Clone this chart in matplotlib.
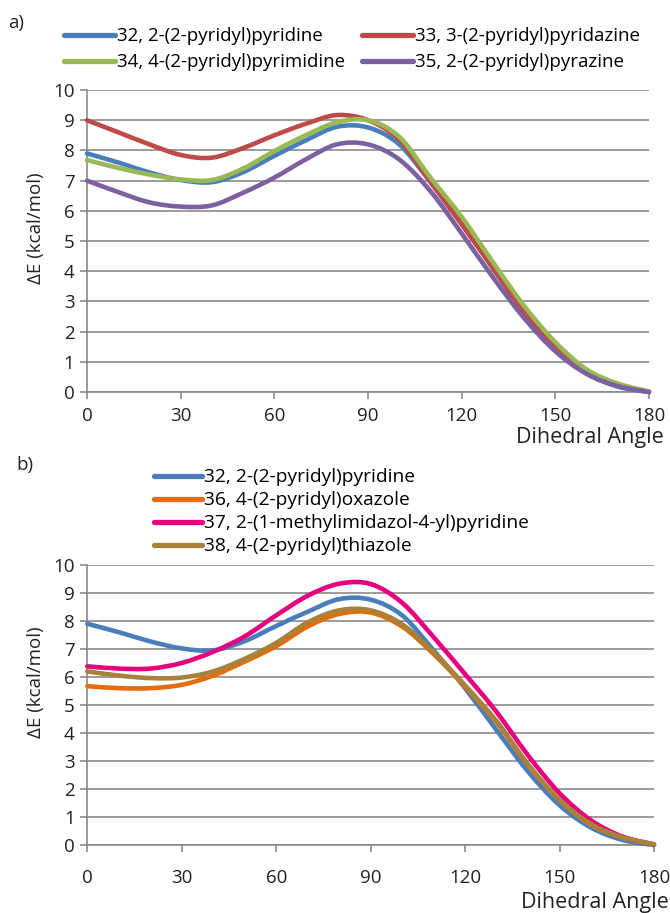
import matplotlib
matplotlib.use("Agg")
import matplotlib.pyplot as plt
import numpy as np
from matplotlib.path import Path
from matplotlib.patches import PathPatch
from matplotlib.lines import Line2D

plt.rcParams["font.family"] = ["Open Sans", "DejaVu Sans"]

# dihedral angles (deg) and relative energies (kcal/mol)
angles = [0, 10, 20, 30, 40, 50, 60, 70, 80, 90, 100, 110, 120, 130, 140, 150, 160, 170, 180]

e32 = [7.90, 7.60, 7.27, 7.02, 6.95, 7.28, 7.82, 8.33, 8.78, 8.76, 8.20, 6.95, 5.60, 4.10, 2.62, 1.42, 0.62, 0.18, 0.0]
e33 = [9.00, 8.60, 8.20, 7.85, 7.76, 8.08, 8.50, 8.88, 9.17, 9.00, 8.35, 6.95, 5.55, 4.10, 2.65, 1.50, 0.68, 0.24, 0.0]
e34 = [7.68, 7.42, 7.20, 7.04, 7.02, 7.40, 7.98, 8.50, 8.93, 9.00, 8.45, 7.10, 5.80, 4.30, 2.85, 1.65, 0.75, 0.28, 0.02]
e35 = [7.00, 6.62, 6.28, 6.14, 6.18, 6.60, 7.10, 7.70, 8.20, 8.20, 7.70, 6.65, 5.25, 3.80, 2.45, 1.35, 0.60, 0.20, 0.0]

e36 = [5.67, 5.60, 5.60, 5.72, 6.05, 6.55, 7.10, 7.80, 8.25, 8.30, 7.80, 6.82, 5.65, 4.38, 2.85, 1.60, 0.72, 0.27, 0.02]
e37 = [6.38, 6.30, 6.30, 6.50, 6.90, 7.45, 8.20, 8.90, 9.33, 9.32, 8.65, 7.42, 6.10, 4.75, 3.20, 1.85, 0.88, 0.30, 0.02]
e38 = [6.20, 6.05, 5.96, 5.98, 6.20, 6.65, 7.22, 7.95, 8.38, 8.38, 7.88, 6.88, 5.70, 4.42, 2.88, 1.62, 0.75, 0.28, 0.02]

labels_a = ["32, 2-(2-pyridyl)pyridine", "33, 3-(2-pyridyl)pyridazine",
            "34, 4-(2-pyridyl)pyrimidine", "35, 2-(2-pyridyl)pyrazine"]
labels_b = ["32, 2-(2-pyridyl)pyridine", "36, 4-(2-pyridyl)oxazole",
            "37, 2-(1-methylimidazol-4-yl)pyridine", "38, 4-(2-pyridyl)thiazole"]

colors_a = ["#4a7ebb", "#be4b48", "#98b954", "#7d60a0"]
colors_b = ["#4a7ebb", "#e46c0a", "#e6007e", "#a8823a"]

GRID = "#8a8a8a"
LW = 3.3


def smooth_line(ax, x, y, color):
    # Excel-like smoothed line: Catmull-Rom segments drawn as cubic Beziers
    p = np.column_stack([x, y]).astype(float)
    pts = np.vstack([p[0], p, p[-1]])
    verts = [p[0]]
    codes = [Path.MOVETO]
    for i in range(1, len(pts) - 2):
        p0, p1, p2, p3 = pts[i - 1], pts[i], pts[i + 1], pts[i + 2]
        verts += [p1 + (p2 - p0) / 6, p2 - (p3 - p1) / 6, p2]
        codes += [Path.CURVE4] * 3
    patch = PathPatch(Path(verts, codes), facecolor="none", edgecolor=color,
                      lw=LW, capstyle="round", joinstyle="round", clip_on=False,
                      zorder=3)
    ax.add_patch(patch)


def style_axes(ax):
    ax.set_xlim(0, 180)
    ax.set_ylim(0, 10)
    ax.set_xticks(np.arange(0, 181, 30))
    ax.set_yticks(np.arange(0, 11, 1))
    ax.yaxis.grid(True, color=GRID, lw=1.2)
    ax.set_axisbelow(True)
    for s in ["top", "right"]:
        ax.spines[s].set_visible(False)
    for s in ["left", "bottom"]:
        ax.spines[s].set_color(GRID)
        ax.spines[s].set_linewidth(1.2)
    ax.tick_params(axis="both", direction="out", length=5, width=1.2,
                   color=GRID, labelsize=13.5, labelcolor="#222222", pad=4)


fig = plt.figure(figsize=(6.7, 9.13), dpi=100)

# panel a
ax1 = fig.add_axes([0.1299, 0.5706, 0.8388, 0.3308])
for y, c in zip([e32, e33, e34, e35], colors_a):
    smooth_line(ax1, angles, y, c)
style_axes(ax1)
ax1.tick_params(axis="x", pad=6)
handles_a = [Line2D([], [], color=c, lw=LW + 0.5, solid_capstyle="round") for c in colors_a]
# legend fills column by column, so order the entries to read row by row
order = [0, 2, 1, 3]
fig.legend([handles_a[i] for i in order], [labels_a[i] for i in order],
           loc="upper left", bbox_to_anchor=(0.096, 0.970),
           ncol=2, frameon=False, fontsize=13.5, handlelength=2.7,
           handletextpad=0.12, columnspacing=0.9, labelspacing=0.42,
           borderpad=0, borderaxespad=0)

# panel b
ax2 = fig.add_axes([0.1303, 0.0745, 0.8458, 0.3067])
for y, c in zip([e32, e36, e37, e38], colors_b):
    smooth_line(ax2, angles, y, c)
style_axes(ax2)
ax2.tick_params(axis="x", pad=12)
handles_b = [Line2D([], [], color=c, lw=LW + 0.5, solid_capstyle="round") for c in colors_b]
fig.legend(handles_b, labels_b, loc="upper left", bbox_to_anchor=(0.230, 0.487),
           ncol=1, frameon=False, fontsize=13.8, handlelength=2.5,
           handletextpad=0.12, labelspacing=0.26, borderpad=0, borderaxespad=0)

# labels
fig.text(0.012, 0.975, "a)", fontsize=13.5, color="#222222", va="center")
fig.text(0.024, 0.491, "b)", fontsize=13.5, color="#222222", va="center")
fig.text(0.053, 0.750, "ΔE (kcal/mol)", rotation=90, fontsize=13.5,
         color="#222222", ha="center", va="center")
fig.text(0.053, 0.253, "ΔE (kcal/mol)", rotation=90, fontsize=13.5,
         color="#222222", ha="center", va="center")
fig.text(0.990, 0.521, "Dihedral Angle", fontsize=15.5, color="#222222",
         ha="right", va="center")
fig.text(0.998, 0.011, "Dihedral Angle", fontsize=15.5, color="#222222",
         ha="right", va="center")

fig.savefig("out.png", dpi=100)
